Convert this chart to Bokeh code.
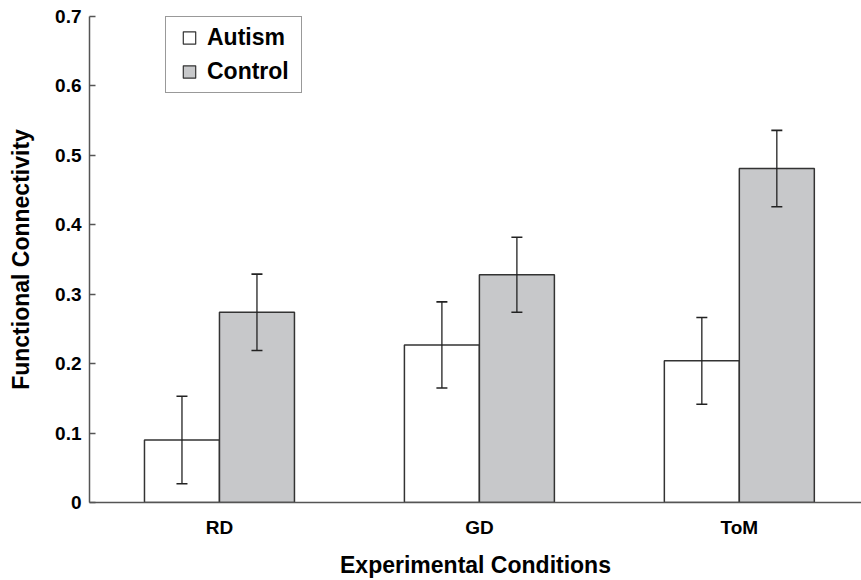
import math
from bokeh.plotting import figure
from bokeh.models import (Range1d, FixedTicker, Whisker, ColumnDataSource, Legend,
                          LegendItem, TeeHead)
from bokeh.embed import file_html
from bokeh.resources import INLINE

# ---- data ----
conditions = ["RD", "GD", "ToM"]
series_names = ["Autism", "Control"]
autism_mean = [0.090, 0.227, 0.204]
autism_err = [0.063, 0.062, 0.0625]
control_mean = [0.274, 0.328, 0.481]
control_err = [0.055, 0.054, 0.055]
y_ticks = [0, 0.1, 0.2, 0.3, 0.4, 0.5, 0.6, 0.7]
y_tick_labels = ["0", "0.1", "0.2", "0.3", "0.4", "0.5", "0.6", "0.7"]

FONT = "Liberation Sans"
EDGE = "#333333"
AXIS = "#555555"
GRAY = "#c7c8ca"

p = figure(width=861, height=580, x_range=Range1d(0, 2.97), y_range=Range1d(0, 0.7),
           output_backend="svg", toolbar_location=None,
           min_border_left=89, min_border_top=16, min_border_right=0, min_border_bottom=77)
p.outline_line_color = None
p.xgrid.visible = False
p.ygrid.visible = False
p.background_fill_color = "white"
p.border_fill_color = "white"

bar_w = 0.2885
x_center = [i + 0.5 for i in range(len(conditions))]
xa = [c - bar_w / 2 for c in x_center]
xc = [c + bar_w / 2 for c in x_center]
src = ColumnDataSource(dict(
    xa=xa, xc=xc, am=autism_mean, cm=control_mean,
    a_lo=[m - e for m, e in zip(autism_mean, autism_err)],
    a_hi=[m + e for m, e in zip(autism_mean, autism_err)],
    c_lo=[m - e for m, e in zip(control_mean, control_err)],
    c_hi=[m + e for m, e in zip(control_mean, control_err)],
))

p.vbar(x="xa", top="am", bottom=0, width=bar_w, source=src,
       fill_color="white", line_color=EDGE, line_width=1.5)
p.vbar(x="xc", top="cm", bottom=0, width=bar_w, source=src,
       fill_color=GRAY, line_color=EDGE, line_width=1.5)

for base, lo, hi in (("xa", "a_lo", "a_hi"), ("xc", "c_lo", "c_hi")):
    w = Whisker(base=base, lower=lo, upper=hi, source=src, level="annotation",
                line_color="#222222", line_width=1.3,
                upper_head=TeeHead(size=11, line_color="#222222", line_width=1.6),
                lower_head=TeeHead(size=11, line_color="#222222", line_width=1.6))
    p.add_layout(w)

# legend proxies (not drawn in the plot area)
leg_src = ColumnDataSource(dict(x=[float("nan")], y=[float("nan")]))
ra = p.scatter(x="x", y="y", source=leg_src, marker="square", size=12,
               fill_color="white", line_color=EDGE, line_width=1.2)
rc = p.scatter(x="x", y="y", source=leg_src, marker="square", size=12,
               fill_color=GRAY, line_color=EDGE, line_width=1.2)

legend = Legend(items=[LegendItem(label=series_names[0], renderers=[ra]),
                       LegendItem(label=series_names[1], renderers=[rc])],
                location=(76, 409), orientation="vertical", padding=5, spacing=3,
                glyph_width=36, glyph_height=31, label_standoff=0, label_width=89,
                label_text_font=FONT, label_text_font_style="bold",
                label_text_font_size="23px", label_text_color="black",
                border_line_color=EDGE, border_line_width=1.2,
                background_fill_color="white", background_fill_alpha=1.0, margin=0)
p.add_layout(legend, "center")

# axes
p.yaxis.ticker = FixedTicker(ticks=y_ticks)
p.yaxis.major_label_overrides = {t: l for t, l in zip(y_ticks, y_tick_labels)}
p.xaxis.ticker = FixedTicker(ticks=x_center)
p.xaxis.major_label_overrides = {c: n for c, n in zip(x_center, conditions)}

for ax in (p.xaxis[0], p.yaxis[0]):
    ax.axis_line_color = AXIS
    ax.axis_line_width = 1.5
    ax.minor_tick_line_color = None
    ax.major_label_text_font = FONT
    ax.major_label_text_font_style = "bold"
    ax.major_label_text_color = "black"
    ax.axis_label_text_font = FONT
    ax.axis_label_text_font_style = "bold"
    ax.axis_label_text_font_size = "23px"
    ax.axis_label_text_color = "black"

p.yaxis.major_tick_in = 6
p.yaxis.major_tick_out = 0
p.yaxis.major_tick_line_color = AXIS
p.yaxis.major_tick_line_width = 1.5
p.yaxis.major_label_text_font_size = "19px"
p.yaxis.major_label_standoff = 8
p.yaxis.axis_label = "Functional Connectivity"
p.yaxis.axis_label_standoff = 18

p.xaxis.major_tick_in = 0
p.xaxis.major_tick_out = 0
p.xaxis.major_tick_line_color = None
p.xaxis.major_label_text_font_size = "19px"
p.xaxis.major_label_standoff = 14
p.xaxis.axis_label = "Experimental Conditions"
p.xaxis.axis_label_standoff = 11

open("out.html", "w").write(file_html(p, INLINE))
